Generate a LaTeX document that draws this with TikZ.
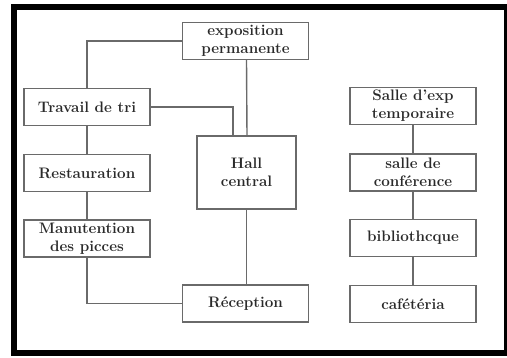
\documentclass[tikz,border=0pt]{standalone}
\usepackage{fontspec}
\usetikzlibrary{positioning}
\definecolor{ink}{HTML}{2A2A2A}
\definecolor{wire}{HTML}{6A6A6A}
\tikzset{
  room/.style={draw=wire,line width=1.4pt,fill=white,text=ink,align=center,
    minimum width=126pt,minimum height=37pt,inner sep=0pt,
    font=\fontsize{15.2}{18}\selectfont\bfseries},
  link/.style={draw=wire,line width=1.4pt}
}
\begin{document}
\begin{tikzpicture}[x=1pt,y=-1pt]
  \useasboundingbox (0,0) rectangle (507,358);
  \draw[line width=6pt] (14,7) rectangle (507,353);
  % left wing
  \node[room] (expo) at (245.5,41) {exposition\\permanente};
  \node[room] (tri) at (87,107) {Travail de tri};
  \node[room] (resto) at (87,173) {Restauration};
  \node[room] (manu) at (87,238.5) {Manutention\\des picces};
  \node[room,minimum width=99pt,minimum height=73pt] (hall) at (246.5,172.5) {Hall\\central};
  \node[room] (recep) at (245.5,303.5) {Réception};
  % right wing
  \node[room] (salle) at (413,106) {Salle d'exp\\temporaire};
  \node[room] (conf) at (413,172.5) {salle de\\conférence};
  \node[room] (biblio) at (413,238) {bibliothcque};
  \node[room] (cafe) at (413,304) {cafétéria};
  % links
  \draw[link] (expo.west) -| (tri.north);
  \draw[link] (tri.east) -| ([xshift=-13.5pt]hall.north);
  \draw[link] ([xshift=1pt]expo.south) -- ([xshift=0.5pt]hall.north);
  \draw[link] (tri) -- (resto) -- (manu);
  \draw[link] (manu.south) |- (recep.west);
  \draw[link] (hall.south) -- (hall.south |- recep.north);
  \draw[link] (salle) -- (conf) -- (biblio) -- (cafe);
\end{tikzpicture}
\end{document}
